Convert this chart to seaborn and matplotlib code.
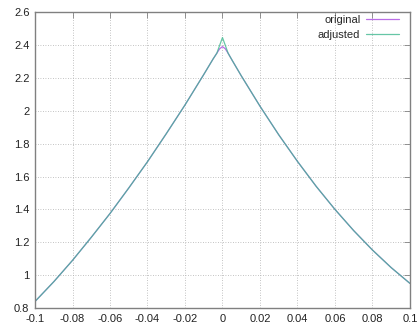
import pandas as pd
import matplotlib
matplotlib.use("Agg")
import matplotlib.pyplot as plt
import seaborn as sns

# values
x_vals = [-0.10, -0.09, -0.08, -0.07, -0.06, -0.05, -0.04, -0.03, -0.02, -0.01,
          -0.005, -0.003, -0.0015, 0.0, 0.0015, 0.003, 0.005,
          0.01, 0.02, 0.03, 0.04, 0.05, 0.06, 0.07, 0.08, 0.09, 0.10]
original = [0.84, 0.96, 1.09, 1.23, 1.375, 1.53, 1.69, 1.86, 2.035, 2.22,
            2.315, 2.35, 2.377, 2.39, 2.377, 2.35, 2.31,
            2.213, 2.028, 1.854, 1.692, 1.54, 1.40, 1.271, 1.153, 1.046, 0.95]
adjusted = [0.84, 0.96, 1.09, 1.23, 1.375, 1.53, 1.69, 1.86, 2.035, 2.22,
            2.315, 2.35, 2.398, 2.445, 2.398, 2.35, 2.31,
            2.213, 2.028, 1.854, 1.692, 1.54, 1.40, 1.271, 1.153, 1.046, 0.95]

x_ticks = [-0.1, -0.08, -0.06, -0.04, -0.02, 0, 0.02, 0.04, 0.06, 0.08, 0.1]
x_labels = ["-0.1", "-0.08", "-0.06", "-0.04", "-0.02", "0", "0.02", "0.04", "0.06", "0.08", "0.1"]
y_ticks = [0.8, 1.0, 1.2, 1.4, 1.6, 1.8, 2.0, 2.2, 2.4, 2.6]
y_labels = ["0.8", "1", "1.2", "1.4", "1.6", "1.8", "2", "2.2", "2.4", "2.6"]

df = pd.concat([
    pd.DataFrame({"x": x_vals, "y": original, "series": "original"}),
    pd.DataFrame({"x": x_vals, "y": adjusted, "series": "adjusted"}),
])

sns.set_style("white")
plt.rcParams["font.family"] = ["Liberation Sans", "DejaVu Sans"]

fig = plt.figure(figsize=(4.17, 3.27), dpi=100)
ax = fig.add_axes([0.084, 0.058, 0.899, 0.905])

sns.lineplot(data=df, x="x", y="y", hue="series", sort=False, ax=ax,
             palette={"original": "#a848e0", "adjusted": "#40b890"},
             linewidth=0.9, alpha=0.8)

ax.set_xlim(-0.1, 0.1)
ax.set_ylim(0.8, 2.6)
ax.set_xticks(x_ticks)
ax.set_xticklabels(x_labels)
ax.set_yticks(y_ticks)
ax.set_yticklabels(y_labels)
ax.set_xlabel("")
ax.set_ylabel("")

ax.grid(True, color="#b0b0b0", linestyle=(0, (1, 2)), linewidth=0.6)
for s in ax.spines.values():
    s.set_color("#808080")
    s.set_linewidth(1.0)
ax.tick_params(direction="in", length=4, width=0.6, color="#808080",
               top=True, right=True, labelsize=8, labelcolor="#222222", pad=4)

ax.legend(loc="upper right", frameon=False, markerfirst=False, fontsize=8,
          handlelength=3.0, handletextpad=0.5, labelspacing=0.45,
          bbox_to_anchor=(0.998, 1.025))

fig.savefig("out.png", dpi=100)
